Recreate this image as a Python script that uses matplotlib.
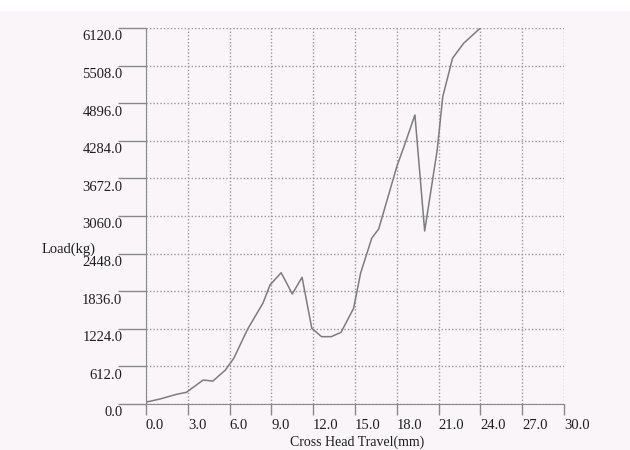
import matplotlib.pyplot as plt
from matplotlib.transforms import ScaledTranslation
from matplotlib.patches import Rectangle

# load vs cross head travel
travel = [0.0, 1.0, 2.2, 2.9, 4.1, 4.8, 5.7, 6.3, 7.3, 8.4, 8.9, 9.7, 10.5, 11.2,
          11.9, 12.6, 13.3, 14.0, 14.9, 15.4, 16.2, 16.7, 18.0, 18.6, 19.3,
          20.0, 20.9, 21.3, 22.0, 22.8, 24.0]
load = [30, 81, 158, 190, 390, 374, 553, 744, 1221, 1644, 1937, 2137, 1791, 2063,
        1232, 1096, 1096, 1167, 1558, 2128, 2698, 2849, 3864, 4244, 4705,
        2816, 4135, 5003, 5628, 5872, 6120]

xticks = [0, 3, 6, 9, 12, 15, 18, 21, 24, 27, 30]
yticks = [0, 612, 1224, 1836, 2448, 3060, 3672, 4284, 4896, 5508, 6120]

paper = '#f9f5f9'
ink = '#1e1e1e'
plt.rcParams['font.family'] = ['Liberation Serif', 'DejaVu Serif']
plt.rcParams['font.size'] = 10.5

fig = plt.figure(figsize=(6.3, 4.5), dpi=100, facecolor=paper)
# white strip along the top edge of the scan
fig.patches.append(Rectangle((0, 440 / 450), 1, 10 / 450, transform=fig.transFigure,
                             color='white', zorder=-1))
ax = fig.add_axes([146 / 630, 46 / 450, 418 / 630, 376 / 450])
ax.set_facecolor(paper)

ax.plot(travel, load, color='#7d7d7d', lw=1.1)

ax.set_xlim(0, 30)
ax.set_ylim(0, 6120)
ax.set_xticks(xticks)
ax.set_yticks(yticks)
ax.set_xticklabels(['%.1f' % v for v in xticks])
ax.set_yticklabels(['%.1f' % v for v in yticks])

ax.tick_params(axis='y', length=20, width=1, color='#8a8a8a', pad=-3, labelcolor=ink)
ax.tick_params(axis='x', length=8, width=1, color='#8a8a8a', pad=3, labelcolor=ink)

for lab in ax.get_xticklabels():
    lab.set_ha('left')
# y labels sit just under their tick line
shift = ScaledTranslation(0, -2.5 / 100, fig.dpi_scale_trans)
for lab in ax.get_yticklabels():
    lab.set_va('top')
    lab.set_transform(lab.get_transform() + shift)

ax.grid(True, linestyle=(0, (1, 1.5)), color='#9a9a9a', lw=1)
for s in ['top', 'right']:
    ax.spines[s].set_visible(False)
for s in ['left', 'bottom']:
    ax.spines[s].set_color('#8a8a8a')

ax.set_ylabel('Load(kg)', rotation=0, ha='right', va='center', color=ink)
ax.yaxis.set_label_coords(-0.12, 0.412)
ax.set_xlabel('Cross Head Travel(mm)', color=ink, fontsize=10)
ax.xaxis.set_label_coords(0.506, -0.103)
ax.xaxis.label.set_va('center')

fig.savefig('out.png', dpi=100, facecolor=paper)
